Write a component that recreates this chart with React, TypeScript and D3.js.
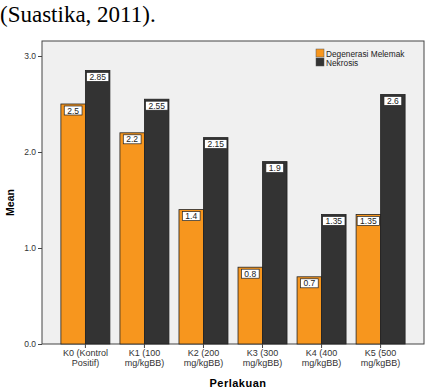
import { useEffect, useRef } from "react";
import * as d3 from "d3";

const categories = ["K0", "K1", "K2", "K3", "K4", "K5"];
const labelLines = [
  ["K0 (Kontrol", "Positif)"],
  ["K1 (100", "mg/kgBB)"],
  ["K2 (200", "mg/kgBB)"],
  ["K3 (300", "mg/kgBB)"],
  ["K4 (400", "mg/kgBB)"],
  ["K5 (500", "mg/kgBB)"],
];
const degenerasi = [2.5, 2.2, 1.4, 0.8, 0.7, 1.35];
const nekrosis = [2.85, 2.55, 2.15, 1.9, 1.35, 2.6];
const seriesNames = ["Degenerasi Melemak", "Nekrosis"];
const colors = ["#F7961E", "#333333"];
const yTicks = [0, 1, 2, 3];

const App = () => {
  const svgRef = useRef<SVGSVGElement>(null);

  useEffect(() => {
    const width = 429, height = 390;
    const left = 42, right = 424, top = 41, bottom = 344;
    const svg = d3.select(svgRef.current);
    svg.selectAll("*").remove();
    svg.attr("width", width).attr("height", height);

    svg.append("rect").attr("width", width).attr("height", height).attr("fill", "#fff");

    svg.append("text")
      .attr("x", 0).attr("y", 22)
      .attr("font-family", "Liberation Serif, Times New Roman, serif")
      .attr("font-size", 23)
      .attr("fill", "#000")
      .text("(Suastika, 2011).");

    svg.append("rect")
      .attr("x", left).attr("y", top)
      .attr("width", right - left).attr("height", bottom - top)
      .attr("fill", "#F0F0F0")
      .attr("stroke", "#444").attr("stroke-width", 1);

    const x = d3.scaleBand().domain(categories).range([left, right])
      .paddingInner(0.17).paddingOuter(0.32);
    const inner = d3.scaleBand().domain(seriesNames).range([0, x.bandwidth()]);
    const y = d3.scaleLinear().domain([0, 3]).range([bottom, bottom - 288]);

    const font = "Arial, Liberation Sans, sans-serif";

    // y axis
    const yAxis = svg.append("g").attr("transform", `translate(${left},0)`)
      .call(d3.axisLeft(y).tickValues(yTicks).tickFormat(d3.format(".1f")).tickSize(4));
    yAxis.select(".domain").remove();
    yAxis.selectAll("line").attr("stroke", "#444");
    yAxis.selectAll("text").attr("font-family", font).attr("font-size", 8.5).attr("fill", "#333").attr("x", -6);

    svg.append("text")
      .attr("transform", `translate(14,${(top + bottom) / 2 + 10}) rotate(-90)`)
      .attr("text-anchor", "middle")
      .attr("font-family", font).attr("font-size", 10.5).attr("font-weight", "bold")
      .text("Mean");

    // bars
    const data = categories.map((c, i) => ({ c, vals: [degenerasi[i], nekrosis[i]] }));
    const groups = svg.append("g").selectAll("g").data(data).join("g")
      .attr("transform", d => `translate(${x(d.c)},0)`);

    groups.selectAll("rect").data(d => d.vals.map((v, k) => ({ v, k }))).join("rect")
      .attr("x", d => inner(seriesNames[d.k])!)
      .attr("y", d => y(d.v))
      .attr("width", inner.bandwidth())
      .attr("height", d => bottom - y(d.v))
      .attr("fill", d => colors[d.k])
      .attr("stroke", "#222").attr("stroke-width", 0.8);

    // value labels
    const lab = groups.selectAll("g.lab").data(d => d.vals.map((v, k) => ({ v, k }))).join("g")
      .attr("class", "lab")
      .attr("transform", d => `translate(${inner(seriesNames[d.k])! + inner.bandwidth() / 2},${y(d.v) + 2})`);
    lab.append("rect")
      .attr("x", d => -(String(d.v).length * 4.6 + 4) / 2)
      .attr("y", 0)
      .attr("width", d => String(d.v).length * 4.6 + 4)
      .attr("height", 9)
      .attr("fill", "#fff").attr("stroke", "#222").attr("stroke-width", 0.7);
    lab.append("text")
      .attr("y", 7.5)
      .attr("text-anchor", "middle")
      .attr("font-family", font).attr("font-size", 8.5).attr("fill", "#222")
      .text(d => String(d.v));

    // x ticks
    categories.forEach((c, i) => {
      const cx = x(c)! + x.bandwidth() / 2;
      svg.append("line").attr("x1", cx).attr("x2", cx).attr("y1", bottom).attr("y2", bottom + 4)
        .attr("stroke", "#444");
      labelLines[i].forEach((t, j) => {
        svg.append("text")
          .attr("x", cx).attr("y", bottom + 12 + j * 9.5)
          .attr("text-anchor", "middle")
          .attr("font-family", font).attr("font-size", 9).attr("fill", "#333")
          .text(t);
      });
    });

    svg.append("text")
      .attr("x", (left + right) / 2 + 5).attr("y", 387)
      .attr("text-anchor", "middle")
      .attr("font-family", font).attr("font-size", 11).attr("font-weight", "bold")
      .attr("letter-spacing", 0.5)
      .text("Perlakuan");

    // legend
    const lg = svg.append("g").attr("transform", "translate(316,49)");
    seriesNames.forEach((n, i) => {
      lg.append("rect").attr("x", 0).attr("y", i * 9).attr("width", 8).attr("height", 8)
        .attr("fill", colors[i]).attr("stroke", "#555").attr("stroke-width", 0.5);
      lg.append("text").attr("x", 10).attr("y", i * 9 + 7.5)
        .attr("font-family", font).attr("font-size", 8.3).attr("fill", "#222")
        .text(n);
    });
  }, []);

  return <svg ref={svgRef} style={{ position: "absolute", left: 0, top: 0 }} />;
};

export default App;
